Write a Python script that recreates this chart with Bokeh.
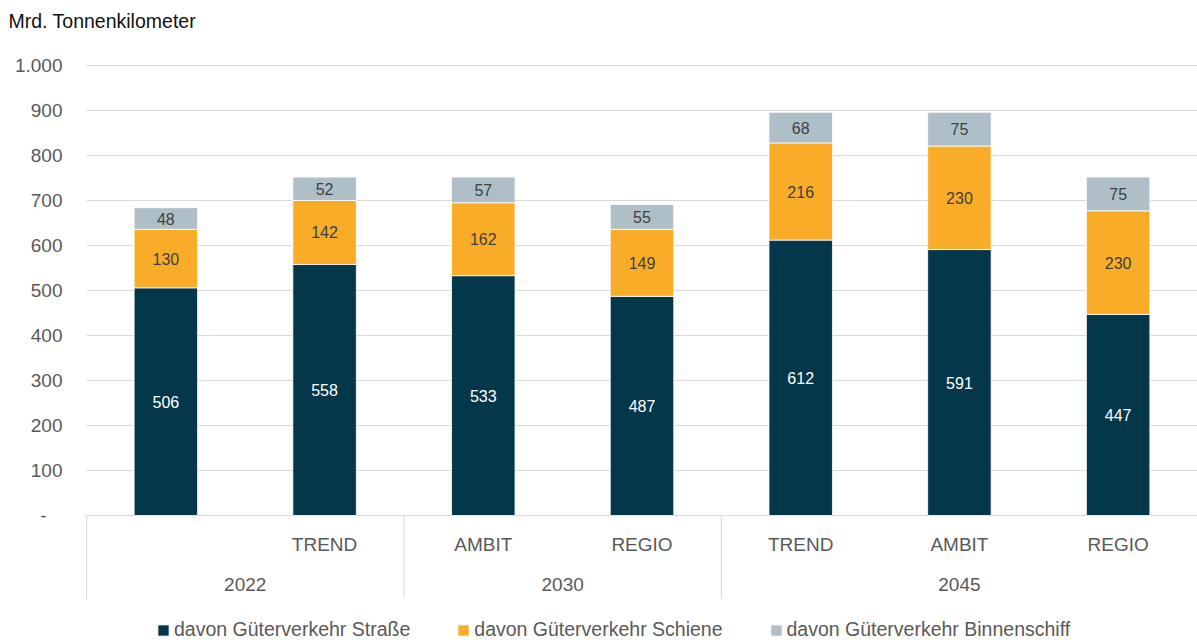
from bokeh.plotting import figure
from bokeh.models import Range1d, ColumnDataSource
from bokeh.core.properties import value
from bokeh.embed import file_html
from bokeh.resources import INLINE

categories = ["", "TREND", "AMBIT", "REGIO", "TREND", "AMBIT", "REGIO"]
groups = ["2022", "2022", "2030", "2030", "2045", "2045", "2045"]
strasse = [506, 558, 533, 487, 612, 591, 447]
schiene = [130, 142, 162, 149, 216, 230, 230]
binnen = [48, 52, 57, 55, 68, 75, 75]
series_names = ["davon Güterverkehr Straße", "davon Güterverkehr Schiene", "davon Güterverkehr Binnenschiff"]
y_ticks = list(range(0, 1001, 100))
title_text = "Mrd. Tonnenkilometer"


def tick_label(v):
    if v == 0:
        return "-\u00a0\u00a0\u00a0"
    return f"{v:,}".replace(",", ".")


colors = ["#05374A", "#F9AC27", "#AEBFC8"]
FONT = "Liberation Sans"
GREY = "#595959"

n = len(categories)
xs = [i + 0.5 for i in range(n)]

# layout in pixels
W, H, LEFT, ZERO_Y, PX_PER_UNIT = 1197, 640, 86, 515, 0.45
cat_px = (W - LEFT) / n


def px_x(px):
    return (px - LEFT) / cat_px


def px_y(py):
    return (ZERO_Y - py) / PX_PER_UNIT


p = figure(width=W, height=H, x_range=Range1d(px_x(0), n), y_range=Range1d(px_y(H), px_y(0)),
           output_backend="svg", toolbar_location=None, x_axis_location=None, y_axis_location=None,
           title_location=None, min_border=0)
p.outline_line_color = None
p.background_fill_color = "white"
p.grid.visible = False

# horizontal grid lines over the plot area only
p.segment(x0=[0] * len(y_ticks), y0=y_ticks, x1=[n] * len(y_ticks), y1=y_ticks,
          line_color="#D9D9D9", line_width=1)

# y tick labels
p.text(x=[px_x(62)] * len(y_ticks), y=y_ticks, text=[tick_label(v) for v in y_ticks],
       text_align="right", text_baseline="middle",
       text_font=value(FONT), text_font_size="19px", text_color=GREY)

src = ColumnDataSource(dict(x=xs, strasse=strasse, schiene=schiene, binnen=binnen))
p.vbar_stack(["strasse", "schiene", "binnen"], x="x", width=0.40, color=colors,
             line_color="white", line_width=0.8, source=src, legend_label=series_names)

# data labels
y1 = [s / 2 for s in strasse]
y2 = [s + c / 2 for s, c in zip(strasse, schiene)]
y3 = [s + c + b / 2 for s, c, b in zip(strasse, schiene, binnen)]
p.text(x=xs, y=y1, text=[str(v) for v in strasse], text_align="center", text_baseline="middle",
       text_font=value(FONT), text_font_size="16px", text_color="white")
p.text(x=xs, y=y2, text=[str(v) for v in schiene], text_align="center", text_baseline="middle",
       text_font=value(FONT), text_font_size="16px", text_color="#404040")
p.text(x=xs, y=y3, text=[str(v) for v in binnen], text_align="center", text_baseline="middle",
       text_font=value(FONT), text_font_size="16px", text_color="#404040")

# category axis
p.text(x=xs, y=[px_y(544)] * n, text=categories, text_align="center", text_baseline="middle",
       text_font=value(FONT), text_font_size="19px", text_color=GREY)

uniq = []
for g in groups:
    if g not in uniq:
        uniq.append(g)
g_centers = []
bounds = []
for g in uniq:
    idx = [i for i, gg in enumerate(groups) if gg == g]
    g_centers.append((idx[0] + idx[-1] + 1) / 2)
    bounds.append(idx[0])
p.text(x=g_centers, y=[px_y(584)] * len(uniq), text=uniq, text_align="center", text_baseline="middle",
       text_font=value(FONT), text_font_size="19px", text_color=GREY)
p.segment(x0=bounds, y0=[0] * len(bounds), x1=bounds, y1=[px_y(598)] * len(bounds),
          line_color="#D9D9D9", line_width=1)

# title
p.text(x=[px_x(8)], y=[px_y(20)], text=[title_text], text_align="left", text_baseline="middle",
       text_font=value(FONT), text_font_size="19.5px", text_color="#111111")

# legend
lg = p.legend[0]
lg.location = (156, -1)
lg.orientation = "horizontal"
lg.background_fill_alpha = 0
lg.border_line_color = None
lg.padding = 0
lg.margin = 0
lg.spacing = 46
lg.label_text_font = FONT
lg.label_text_font_size = "19.5px"
lg.label_text_color = GREY
lg.glyph_width = 14
lg.glyph_height = 14
lg.label_standoff = 4

open("out.html", "w").write(file_html(p, INLINE))
